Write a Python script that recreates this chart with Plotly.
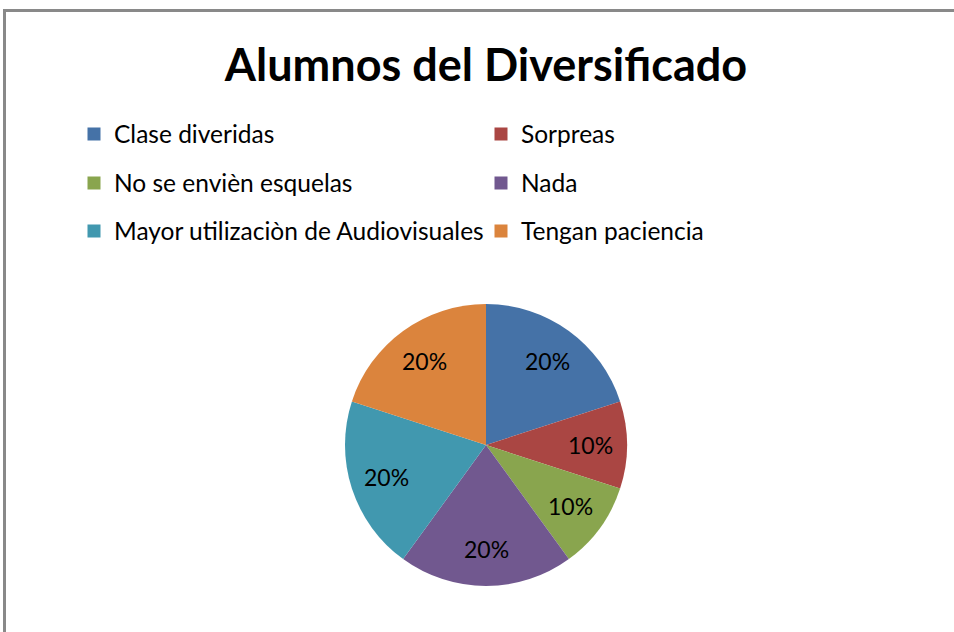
import math
import plotly.graph_objects as go

# data
labels = [
    "Clase diveridas",
    "Sorpreas",
    "No se envièn esquelas",
    "Nada",
    "Mayor utilizaciòn de Audiovisuales",
    "Tengan paciencia",
]
values = [20, 10, 10, 20, 20, 20]
colors = ["#4572A7", "#AA4643", "#89A54E", "#71588F", "#4198AF", "#DB843D"]

W, H = 954, 632
cx, cy, r = 486, 445, 141

fig = go.Figure()

fig.add_trace(go.Pie(
    labels=labels,
    values=values,
    marker=dict(colors=colors, line=dict(width=0)),
    sort=False,
    direction="clockwise",
    rotation=0,
    textinfo="none",
    hoverinfo="label+percent",
    showlegend=False,
    domain=dict(x=[(cx - r) / W, (cx + r) / W], y=[1 - (cy + r) / H, 1 - (cy - r) / H]),
))

# percent labels, placed at the middle angle of each slice (Excel style)
total = sum(values)
annotations = []
start = 0
for v in values:
    ang = math.radians((start + v / 2) / total * 360)
    start += v
    d = 0.74 * r
    annotations.append(dict(
        x=(cx + d * math.sin(ang)) / W, y=1 - (cy - d * math.cos(ang)) / H,
        xref="paper", yref="paper", xanchor="center", yanchor="middle",
        text=f"{v / total:.0%}", showarrow=False,
        font=dict(family="Lato", size=23, color="black"),
    ))

# legend entries: two per row, three rows
legend_names = ["legend", "legend2", "legend3"]
row_y = [134, 183, 231]
for i, (lab, col) in enumerate(zip(labels, colors)):
    fig.add_trace(go.Scatter(
        x=[None], y=[None], mode="markers", name=lab,
        marker=dict(symbol="square", size=13, color=col),
        legend=legend_names[i // 2],
    ))

leg_common = dict(
    orientation="h", x=74 / W, xanchor="left", yanchor="middle",
    entrywidth=362, font=dict(family="Lato", size=24.5, color="black"),
    bgcolor="rgba(0,0,0,0)", itemclick=False, itemdoubleclick=False,
)

# chart frame: only its left and top edges fall inside the crop,
# drawn with the (otherwise empty) axes' lines
frame_axis = dict(
    showline=True, linecolor="#898989", linewidth=2.5, mirror=False,
    showgrid=False, zeroline=False, showticklabels=False, ticks="",
    range=[0, 1], fixedrange=True,
)

fig.update_layout(
    width=W, height=H,
    margin=dict(l=0, r=0, t=0, b=0),
    paper_bgcolor="white", plot_bgcolor="rgba(0,0,0,0)",
    xaxis=dict(domain=[6 / W, 1], side="top", **frame_axis),
    yaxis=dict(domain=[0, 1 - 12 / H], side="left", **frame_axis),
    title=dict(
        text="Alumnos del Diversificado",
        x=486 / W, y=1 - 65 / H, xanchor="center", yanchor="middle",
        font=dict(family="Lato", size=45, color="black", weight="bold"),
    ),
    legend=dict(y=1 - row_y[0] / H, **leg_common),
    legend2=dict(y=1 - row_y[1] / H, **leg_common),
    legend3=dict(y=1 - row_y[2] / H, **leg_common),
    annotations=annotations,
)

fig.write_html(
    "out.html",
    config={"displayModeBar": False},
    post_script="document.body.style.margin='0';"
                "document.body.style.overflow='hidden';"
                "document.documentElement.style.overflow='hidden';",
)
